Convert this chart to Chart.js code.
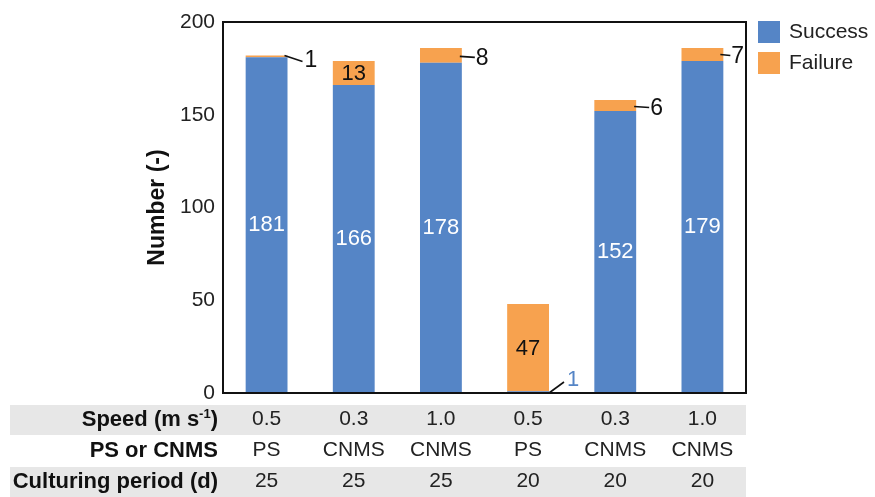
<!DOCTYPE html>
<html><head><meta charset="utf-8">
<script src="https://cdn.jsdelivr.net/npm/chart.js@4.4.1/dist/chart.umd.min.js"></script>
<style>html,body{margin:0;padding:0;background:#fff}canvas{display:block}</style>
</head><body>
<canvas id="c" width="875" height="497"></canvas>
<script>
// ---- data ----
const speeds = ['0.5', '0.3', '1.0', '0.5', '0.3', '1.0'];
const materials = ['PS', 'CNMS', 'CNMS', 'PS', 'CNMS', 'CNMS'];
const periods = ['25', '25', '25', '20', '20', '20'];
const success = [181, 166, 178, 1, 152, 179];
const failure = [1, 13, 8, 47, 6, 7];
const yTicks = [0, 50, 100, 150, 200];
const rowTitles = ['Speed (m s', 'PS or CNMS', 'Culturing period (d)'];
const seriesNames = ['Success', 'Failure'];

// ---- style ----
const BLUE = '#5585c6';
const ORANGE = '#f7a24f';
const FONT = "'Liberation Sans', Arial, sans-serif";
// label placement: 'in' = centered inside segment; 'diag' / 'side' / 'tight' = outside with leader line; 'low' = outside at base
const successPlace = ['in', 'in', 'in', 'low', 'in', 'in'];
const failurePlace = ['diag', 'in', 'side', 'in', 'side', 'tight'];

const categories = speeds.map((s, i) => [s, materials[i], periods[i]]);

function txt(ctx, t, x, y, color, size, align, weight) {
  ctx.font = (weight || 'normal') + ' ' + size + 'px ' + FONT;
  ctx.fillStyle = color;
  ctx.textAlign = align || 'center';
  ctx.textBaseline = 'middle';
  ctx.fillText(t, x, y);
}
function line(ctx, x1, y1, x2, y2) {
  ctx.beginPath(); ctx.moveTo(x1, y1); ctx.lineTo(x2, y2);
  ctx.strokeStyle = '#111'; ctx.lineWidth = 1.6; ctx.stroke();
}

const deco = {
  id: 'deco',
  beforeDraw(chart) {
    const ctx = chart.ctx, a = chart.chartArea, xs = chart.scales.x;
    ctx.save();
    ctx.fillStyle = '#fff';
    ctx.fillRect(0, 0, chart.width, chart.height);
    ctx.fillStyle = '#e7e7e7';
    const r0 = xs.top + 12;
    ctx.fillRect(10, r0, a.right - 10, 30);
    ctx.fillRect(10, r0 + 62, a.right - 10, 31);
    ctx.restore();
  },
  afterDatasetsDraw(chart) {
    const ctx = chart.ctx;
    const m0 = chart.getDatasetMeta(0).data, m1 = chart.getDatasetMeta(1).data;
    ctx.save();
    for (let i = 0; i < categories.length; i++) {
      const s = m0[i], f = m1[i];
      const hw = s.width / 2;
      const right = s.x + hw;
      if (successPlace[i] === 'in') {
        txt(ctx, String(success[i]), s.x, (s.y + s.base) / 2, '#ffffff', 22);
      } else {
        line(ctx, right, s.base, right + 15, s.base - 11);
        txt(ctx, String(success[i]), right + 18, s.base - 13, BLUE, 22, 'left');
      }
      const fc = (f.y + f.base) / 2;
      const p = failurePlace[i];
      if (p === 'in') {
        txt(ctx, String(failure[i]), f.x, fc + 1, '#111', 22);
      } else if (p === 'diag') {
        line(ctx, right - 3, f.y, right + 15, f.y + 6);
        txt(ctx, String(failure[i]), right + 17, f.y + 5, '#111', 23, 'left');
      } else if (p === 'side') {
        line(ctx, right - 2, fc + 1, right + 13, fc + 2);
        txt(ctx, String(failure[i]), right + 14, fc + 3, '#111', 23, 'left');
      } else {
        line(ctx, right - 3, fc, right + 7, fc + 1);
        txt(ctx, String(failure[i]), right + 8, fc + 2, '#111', 23, 'left');
      }
    }
    ctx.restore();
  },
  afterDraw(chart) {
    const ctx = chart.ctx, a = chart.chartArea, xs = chart.scales.x;
    ctx.save();
    // frame
    ctx.strokeStyle = '#111'; ctx.lineWidth = 2;
    ctx.strokeRect(a.left, a.top, a.right - a.left, a.bottom - a.top);
    // legend
    const ds = chart.data.datasets;
    ds.forEach((d, k) => {
      const y = a.top - 1 + k * 31;
      ctx.fillStyle = d.backgroundColor;
      ctx.fillRect(a.right + 12, y, 22, 22);
      txt(ctx, d.label, a.right + 43, y + 11, '#222', 21, 'left');
    });
    // row titles
    const rx = a.left - 5;
    const r0 = xs.top + 27;
    ctx.font = 'bold 22px ' + FONT;
    const closeW = ctx.measureText(')').width;
    txt(ctx, ')', rx, r0, '#111', 22, 'right', 'bold');
    ctx.font = 'bold 13px ' + FONT;
    const supW = ctx.measureText('-1').width;
    txt(ctx, '-1', rx - closeW, r0 - 6, '#111', 13, 'right', 'bold');
    txt(ctx, rowTitles[0], rx - closeW - supW, r0, '#111', 22, 'right', 'bold');
    txt(ctx, rowTitles[1], rx, r0 + 31, '#111', 22, 'right', 'bold');
    txt(ctx, rowTitles[2], rx, r0 + 62, '#111', 22, 'right', 'bold');
    ctx.restore();
  }
};

new Chart(document.getElementById('c'), {
  type: 'bar',
  data: {
    labels: categories,
    datasets: [
      { label: seriesNames[0], data: success, backgroundColor: BLUE, barPercentage: 0.48, categoryPercentage: 1.0 },
      { label: seriesNames[1], data: failure, backgroundColor: ORANGE, barPercentage: 0.48, categoryPercentage: 1.0 }
    ]
  },
  options: {
    responsive: false,
    animation: false,
    layout: { padding: { left: 140, right: 129, top: 22, bottom: 0 } },
    plugins: { legend: { display: false }, tooltip: { enabled: false } },
    scales: {
      x: {
        stacked: true,
        grid: { display: false, drawTicks: false },
        border: { display: false },
        ticks: { color: '#222', font: { family: FONT, size: 21, lineHeight: '31px' }, padding: 11, maxRotation: 0, autoSkip: false },
        afterFit(s) { s.height = 104; }
      },
      y: {
        stacked: true,
        min: 0, max: 200,
        afterBuildTicks(s) { s.ticks = yTicks.map(v => ({ value: v })); },
        grid: { display: false, drawTicks: false },
        border: { display: false },
        ticks: { color: '#222', font: { family: FONT, size: 21 }, padding: 8 },
        title: { display: true, text: 'Number (-)', color: '#111', font: { family: FONT, size: 23, weight: 'bold' }, padding: { top: 4, bottom: 4 } },
        afterFit(s) { s.width = 83; }
      }
    }
  },
  plugins: [deco]
});
</script>
</body></html>
